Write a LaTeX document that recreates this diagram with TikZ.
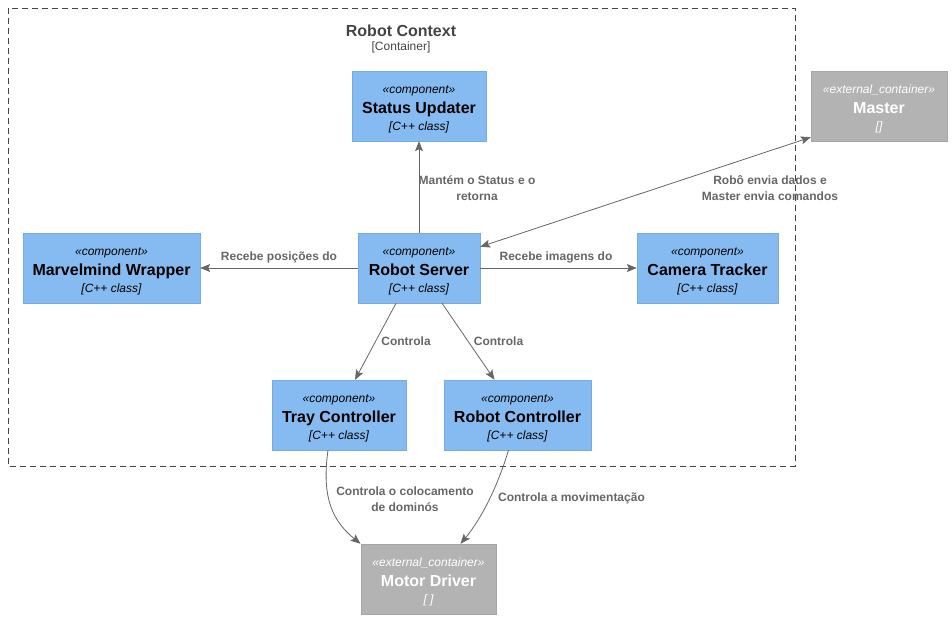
\documentclass[tikz,border=0pt]{standalone}
\usepackage{fontspec}
\setmainfont{Liberation Sans}
\usepackage{tikz}
\usetikzlibrary{calc,arrows.meta}

\definecolor{compfill}{HTML}{85BBF0}
\definecolor{compline}{HTML}{78ABE0}
\definecolor{extfill}{HTML}{B3B3B3}
\definecolor{extline}{HTML}{A6A6A6}
\definecolor{relgray}{HTML}{666666}
\definecolor{ctxgray}{HTML}{444444}

% three lines of a box: stereotype, name, technology
\newcommand{\boxlines}[3]{{\itshape\fontsize{12}{14}\selectfont\rule{0pt}{15pt}«#1»}\\[2pt]\textbf{#2}\\[-1pt]{\itshape\fontsize{12}{14}\selectfont [#3]}}

\begin{document}
\begin{tikzpicture}[x=1pt,y=-1pt,
  comp/.style={draw=compline,fill=compfill,minimum width=#1,minimum height=70pt,
    inner sep=0pt,align=center,font=\fontsize{16}{18}\selectfont},
  ext/.style={draw=extline,fill=extfill,text=white,minimum width=#1,minimum height=70pt,
    inner sep=0pt,align=center,font=\fontsize{16}{18}\selectfont},
  rel/.style={draw=relgray,line width=0.8pt,>={Stealth[length=10pt,width=8pt,inset=2pt]},->},
  lbl/.style={text=relgray,inner sep=0pt,align=center,font=\bfseries\fontsize{12}{16}\selectfont}]
\useasboundingbox (0,0) rectangle (952,619);

% boundary
\draw[ctxgray,dash pattern=on 6pt off 4pt] (8,8) rectangle (795,466);
\node[text=ctxgray,font=\bfseries\fontsize{16}{18}\selectfont] (ctxname) at (401,31) {Robot Context};
\node[text=ctxgray,font=\fontsize{12}{14}\selectfont] (ctxtype) at (401,47) {[Container]};

% components
\node[comp=134pt] (status) at (419,106) {\boxlines{component}{Status Updater}{C++ class}};
\node[comp=177pt] (marvel) at (111.5,268) {\boxlines{component}{Marvelmind Wrapper}{C++ class}};
\node[comp=122pt] (server) at (419,268) {\boxlines{component}{Robot Server}{C++ class}};
\node[comp=141pt] (camera) at (707.5,268) {\boxlines{component}{Camera Tracker}{C++ class}};
\node[comp=134pt] (tray) at (339,415) {\boxlines{component}{Tray Controller}{C++ class}};
\node[comp=147pt] (robotctl) at (517.5,415) {\boxlines{component}{Robot Controller}{C++ class}};

% outside
\node[ext=136pt] (master) at (879,106) {\boxlines{external\_container}{Master}{}};
\node[ext=135pt] (motor) at (428.5,579) {\boxlines{external\_container}{Motor Driver}{ }};

% relations
\draw[rel] (server.north) -- (status.south);
\node[lbl] (lstatus) at (477,188) {Mantém o Status e o\\retorna};
\draw[rel,<->] ([yshift=-14pt]server.north east) -- ([yshift=4pt]master.south west);
\node[lbl] (lmaster) at (770,188) {Robô envia dados e\\Master envia comandos};
\draw[rel] (server.west) -- (marvel.east);
\node[lbl] (lmarvel) at (279,257) {Recebe posições do};
\draw[rel] (server.east) -- (camera.west);
\node[lbl] (lcamera) at (556,257) {Recebe imagens do};
\draw[rel] ([xshift=-23pt]server.south) -- ([xshift=16pt]tray.north);
\node[lbl] (ltray) at (406,341) {Controla};
\draw[rel] ([xshift=23pt]server.south) -- ([xshift=-23pt]robotctl.north);
\node[lbl] (lrobot) at (498.5,341) {Controla};

\draw[rel] ([xshift=-11pt]tray.south) .. controls (321,500) and (334,522) .. ([xshift=-68pt]motor.north);
\node[lbl] (lplace) at (405,499) {Controla o colocamento\\de dominós};
\draw[rel] ([xshift=-9pt]robotctl.south) .. controls (498,485) and (482,518) .. ([xshift=32pt]motor.north);
\node[lbl] (lmove) at (571.5,498) {Controla a movimentação};

\end{tikzpicture}
\end{document}
